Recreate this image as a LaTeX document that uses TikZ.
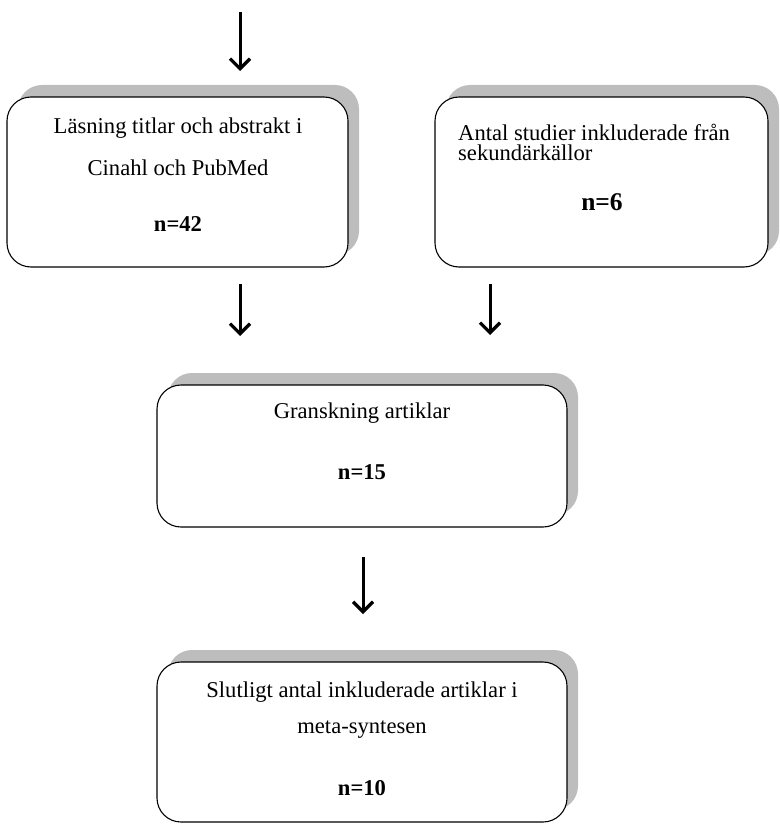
\documentclass[tikz,border=0pt]{standalone}
\usepackage{fontspec}
\setmainfont{Liberation Serif}
\usetikzlibrary{arrows.meta}
\begin{document}
\begin{tikzpicture}[x=1pt,y=-1pt,
  box/.style={draw=black, line width=1.1pt, rounded corners=24pt, fill=white},
  shadowbox/.style={fill=black!26, rounded corners=24pt},
  txt/.style={inner sep=0pt, font=\fontsize{22.6}{26}\selectfont},
  btxt/.style={inner sep=0pt, font=\fontsize{22.6}{26}\selectfont\bfseries},
  arr/.style={line width=3pt, -{Straight Barb[length=10pt,width=20pt,line width=3.2pt]}}]
\useasboundingbox (0,0) rectangle (779,826);
% shadows and boxes
\foreach \l/\t/\r/\b/\n in {7/97/348/267/b1, 435/97/768/267/b2, 157/385/567/527/b3, 157/662/567/822/b4}{
  \fill[shadowbox] (\l+11,\t-12) rectangle (\r+11,\b-12);
  \draw[box] (\l,\t) rectangle (\r,\b);
}
% texts
\node[txt] (t1a) at (178,128) {Läsning titlar och abstrakt i};
\node[txt] (t1b) at (178,168) {Cinahl och PubMed};
\node[btxt] (t1c) at (178,224) {n=42};
\node[txt,anchor=west] (t2a) at (458,132) {Antal studier inkluderade från};
\node[txt,anchor=west] (t2b) at (458,153) {sekundärkällor};
\node[btxt,font=\fontsize{25.5}{28}\selectfont\bfseries] (t2c) at (602,202) {n=6};
\node[txt] (t3a) at (362,413) {Granskning artiklar};
\node[btxt] (t3b) at (362,472) {n=15};
\node[txt] (t4a) at (362,692) {Slutligt antal inkluderade artiklar i};
\node[txt] (t4b) at (362,730) {meta-syntesen};
\node[btxt] (t4c) at (362,788) {n=10};
% arrows
\coordinate (a0s) at (240,12);  \coordinate (a0e) at (240,71);
\coordinate (a1s) at (240,284); \coordinate (a1e) at (240,336);
\coordinate (a2s) at (490,284); \coordinate (a2e) at (490,335);
\coordinate (a3s) at (363,557); \coordinate (a3e) at (363,614);
\draw[arr] (a0s) -- (a0e);
\draw[arr] (a1s) -- (a1e);
\draw[arr] (a2s) -- (a2e);
\draw[arr] (a3s) -- (a3e);
\end{tikzpicture}
\end{document}
